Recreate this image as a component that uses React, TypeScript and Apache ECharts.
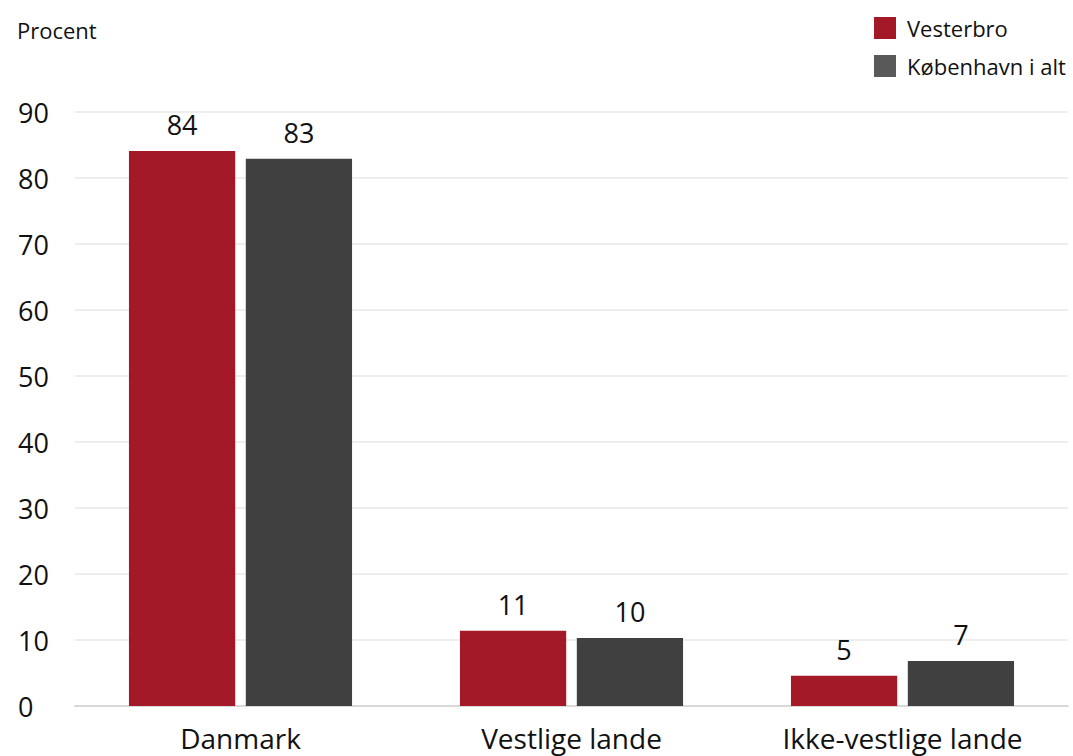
import React, { useEffect, useRef } from "react";
import * as echarts from "echarts";

const categories = ["Danmark", "Vestlige lande", "Ikke-vestlige lande"];
const vesterbro = [84.1, 11.4, 4.6];
const kobenhavn = [82.9, 10.3, 6.8];
const seriesNames = ["Vesterbro", "København i alt"];
const yTitle = "Procent";

const FONT = "'Open Sans', 'Noto Sans', sans-serif";

export default function App() {
  const ref = useRef<HTMLDivElement>(null);
  useEffect(() => {
    if (!ref.current) return;
    const chart = echarts.init(ref.current, null, { renderer: "svg" });
    const labelCfg = {
      show: true,
      position: "top",
      distance: 13,
      fontSize: 27,
      color: "#111",
      fontFamily: FONT,
      formatter: (p: any) => String(Math.round(p.value)),
    };
    chart.setOption({
      animation: false,
      textStyle: { fontFamily: FONT },
      graphic: [
        {
          type: "text",
          left: 17,
          top: 19,
          style: { text: yTitle, fontSize: 22, fill: "#111", fontFamily: FONT },
        },
      ],
      legend: {
        orient: "vertical",
        left: 869,
        top: 12,
        itemWidth: 22,
        itemHeight: 22,
        itemGap: 16,
        textStyle: { fontSize: 22, color: "#111", fontFamily: FONT, padding: [0, 0, 0, 6] },
        data: [
          { name: seriesNames[0], icon: "rect", itemStyle: { color: "#A31927" } },
          { name: seriesNames[1], icon: "rect", itemStyle: { color: "#595959" } },
        ],
      },
      grid: { left: 75, right: 5, top: 112, bottom: 50, containLabel: false },
      xAxis: {
        type: "category",
        data: categories,
        axisTick: { show: false },
        axisLine: { lineStyle: { color: "#d9d9d9", width: 2 } },
        axisLabel: { fontSize: 28, color: "#111", margin: 18, fontFamily: FONT },
      },
      yAxis: {
        type: "value",
        min: 0,
        max: 90,
        interval: 10,
        axisLine: { show: false },
        axisTick: { show: false },
        splitLine: { lineStyle: { color: "#eeeeee", width: 2 } },
        axisLabel: { fontSize: 27, color: "#111", align: "left", margin: 57, fontFamily: FONT },
      },
      series: [
        {
          name: seriesNames[0],
          type: "bar",
          data: vesterbro,
          barGap: "10%",
          barCategoryGap: "32.6%",
          itemStyle: { color: "#A31927" },
          label: labelCfg,
        },
        {
          name: seriesNames[1],
          type: "bar",
          data: kobenhavn,
          itemStyle: { color: "#404040" },
          label: labelCfg,
        },
      ],
    });
    return () => chart.dispose();
  }, []);
  return (
    <div
      ref={ref}
      style={{ position: "fixed", left: 0, top: 0, width: 1073, height: 756, background: "#fff" }}
    />
  );
}
